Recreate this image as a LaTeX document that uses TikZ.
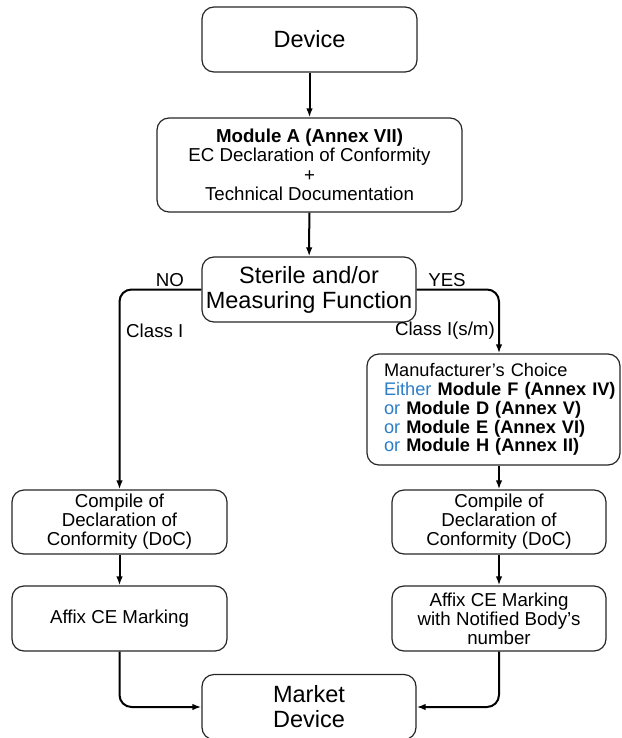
\documentclass[tikz,border=0pt]{standalone}
\usepackage{fontspec}
\setmainfont{Liberation Sans}
\usepackage{tikz}
\usetikzlibrary{arrows.meta}
\definecolor{choiceblue}{RGB}{43,125,200}

\begin{document}
\begin{tikzpicture}[x=1pt,y=-1pt]
\tikzset{stepbox/.style={draw=black!85, line width=1.2pt, rounded corners=12pt, align=center, inner sep=0pt}}
\tikzset{bigtext/.style={font=\fontsize{23.5}{25}\selectfont}}
\tikzset{smalltext/.style={font=\fontsize{18.7}{19}\selectfont}}
\tikzset{flow/.style={line width=2pt, -{Latex[length=9pt,width=6.5pt]}}}
\tikzset{tag/.style={smalltext, inner sep=0pt}}
\useasboundingbox (0,0) rectangle (621,738);
\clip (0,0) rectangle (621,738);
\node[stepbox, bigtext, minimum width=215pt, minimum height=65pt] (device) at (309.5,39.5) {Device};
\node[stepbox, font=\fontsize{18.7}{19.5}\selectfont, minimum width=305pt, minimum height=94pt] (moduleA) at (309.5,165)
  {\textbf{Module A (Annex VII)}\\EC Declaration of Conformity\\+\\Technical Documentation};
\node[stepbox, bigtext, minimum width=214pt, minimum height=65pt] (sterile) at (309,289.5) {Sterile and/or\\Measuring Function};
\node[stepbox, font=\fontsize{18.2}{18.8}\selectfont, align=left, text width=219pt, inner xsep=17pt, minimum width=253pt, minimum height=111pt] (choice) at (493.5,409.5)
  {Manufacturer’s Choice\\
   \mbox{\textcolor{choiceblue}{Either} \textbf{Module F (Annex IV)}}\\
   \textcolor{choiceblue}{or} \textbf{Module D (Annex V)}\\
   \textcolor{choiceblue}{or} \textbf{Module E (Annex VI)}\\
   \textcolor{choiceblue}{or} \textbf{Module H (Annex II)}};
\node[stepbox, smalltext, minimum width=215pt, minimum height=64pt] (docL) at (119.5,522) {Compile of\\Declaration of\\Conformity (DoC)};
\node[stepbox, smalltext, minimum width=214pt, minimum height=64pt] (docR) at (499,522) {Compile of\\Declaration of\\Conformity (DoC)};
\node[stepbox, smalltext, minimum width=215pt, minimum height=65pt] (affixL) at (119.5,618.5) {Affix CE Marking};
\node[stepbox, smalltext, minimum width=214pt, minimum height=65pt] (affixR) at (499,618.5) {Affix CE Marking\\with Notified Body’s\\number};
\node[stepbox, bigtext, minimum width=214pt, minimum height=65pt] (market) at (309,707) {Market\\Device};

\node[tag] (no) at (170,280) {NO};
\node[tag] (yes) at (447,280) {YES};
\node[tag, anchor=west] (classI) at (126,331) {Class I};
\node[tag, anchor=east] (classIsm) at (495,331) {Class I(s/m)};

\draw[flow] (device) -- (moduleA);
\draw[flow] (moduleA) -- (sterile);
\draw[flow, rounded corners=12pt] (sterile.west) -| (docL.north);
\draw[flow, rounded corners=12pt] (sterile.east) -| (docR.north |- choice.north);
\draw[flow] (docR.north |- choice.south) -- (docR.north);
\draw[flow] (docL) -- (affixL);
\draw[flow] (docR) -- (affixR);
\draw[flow, rounded corners=12pt] (affixL.south) |- (market.west);
\draw[flow, rounded corners=12pt] (affixR.south) |- (market.east);
\end{tikzpicture}
\end{document}
